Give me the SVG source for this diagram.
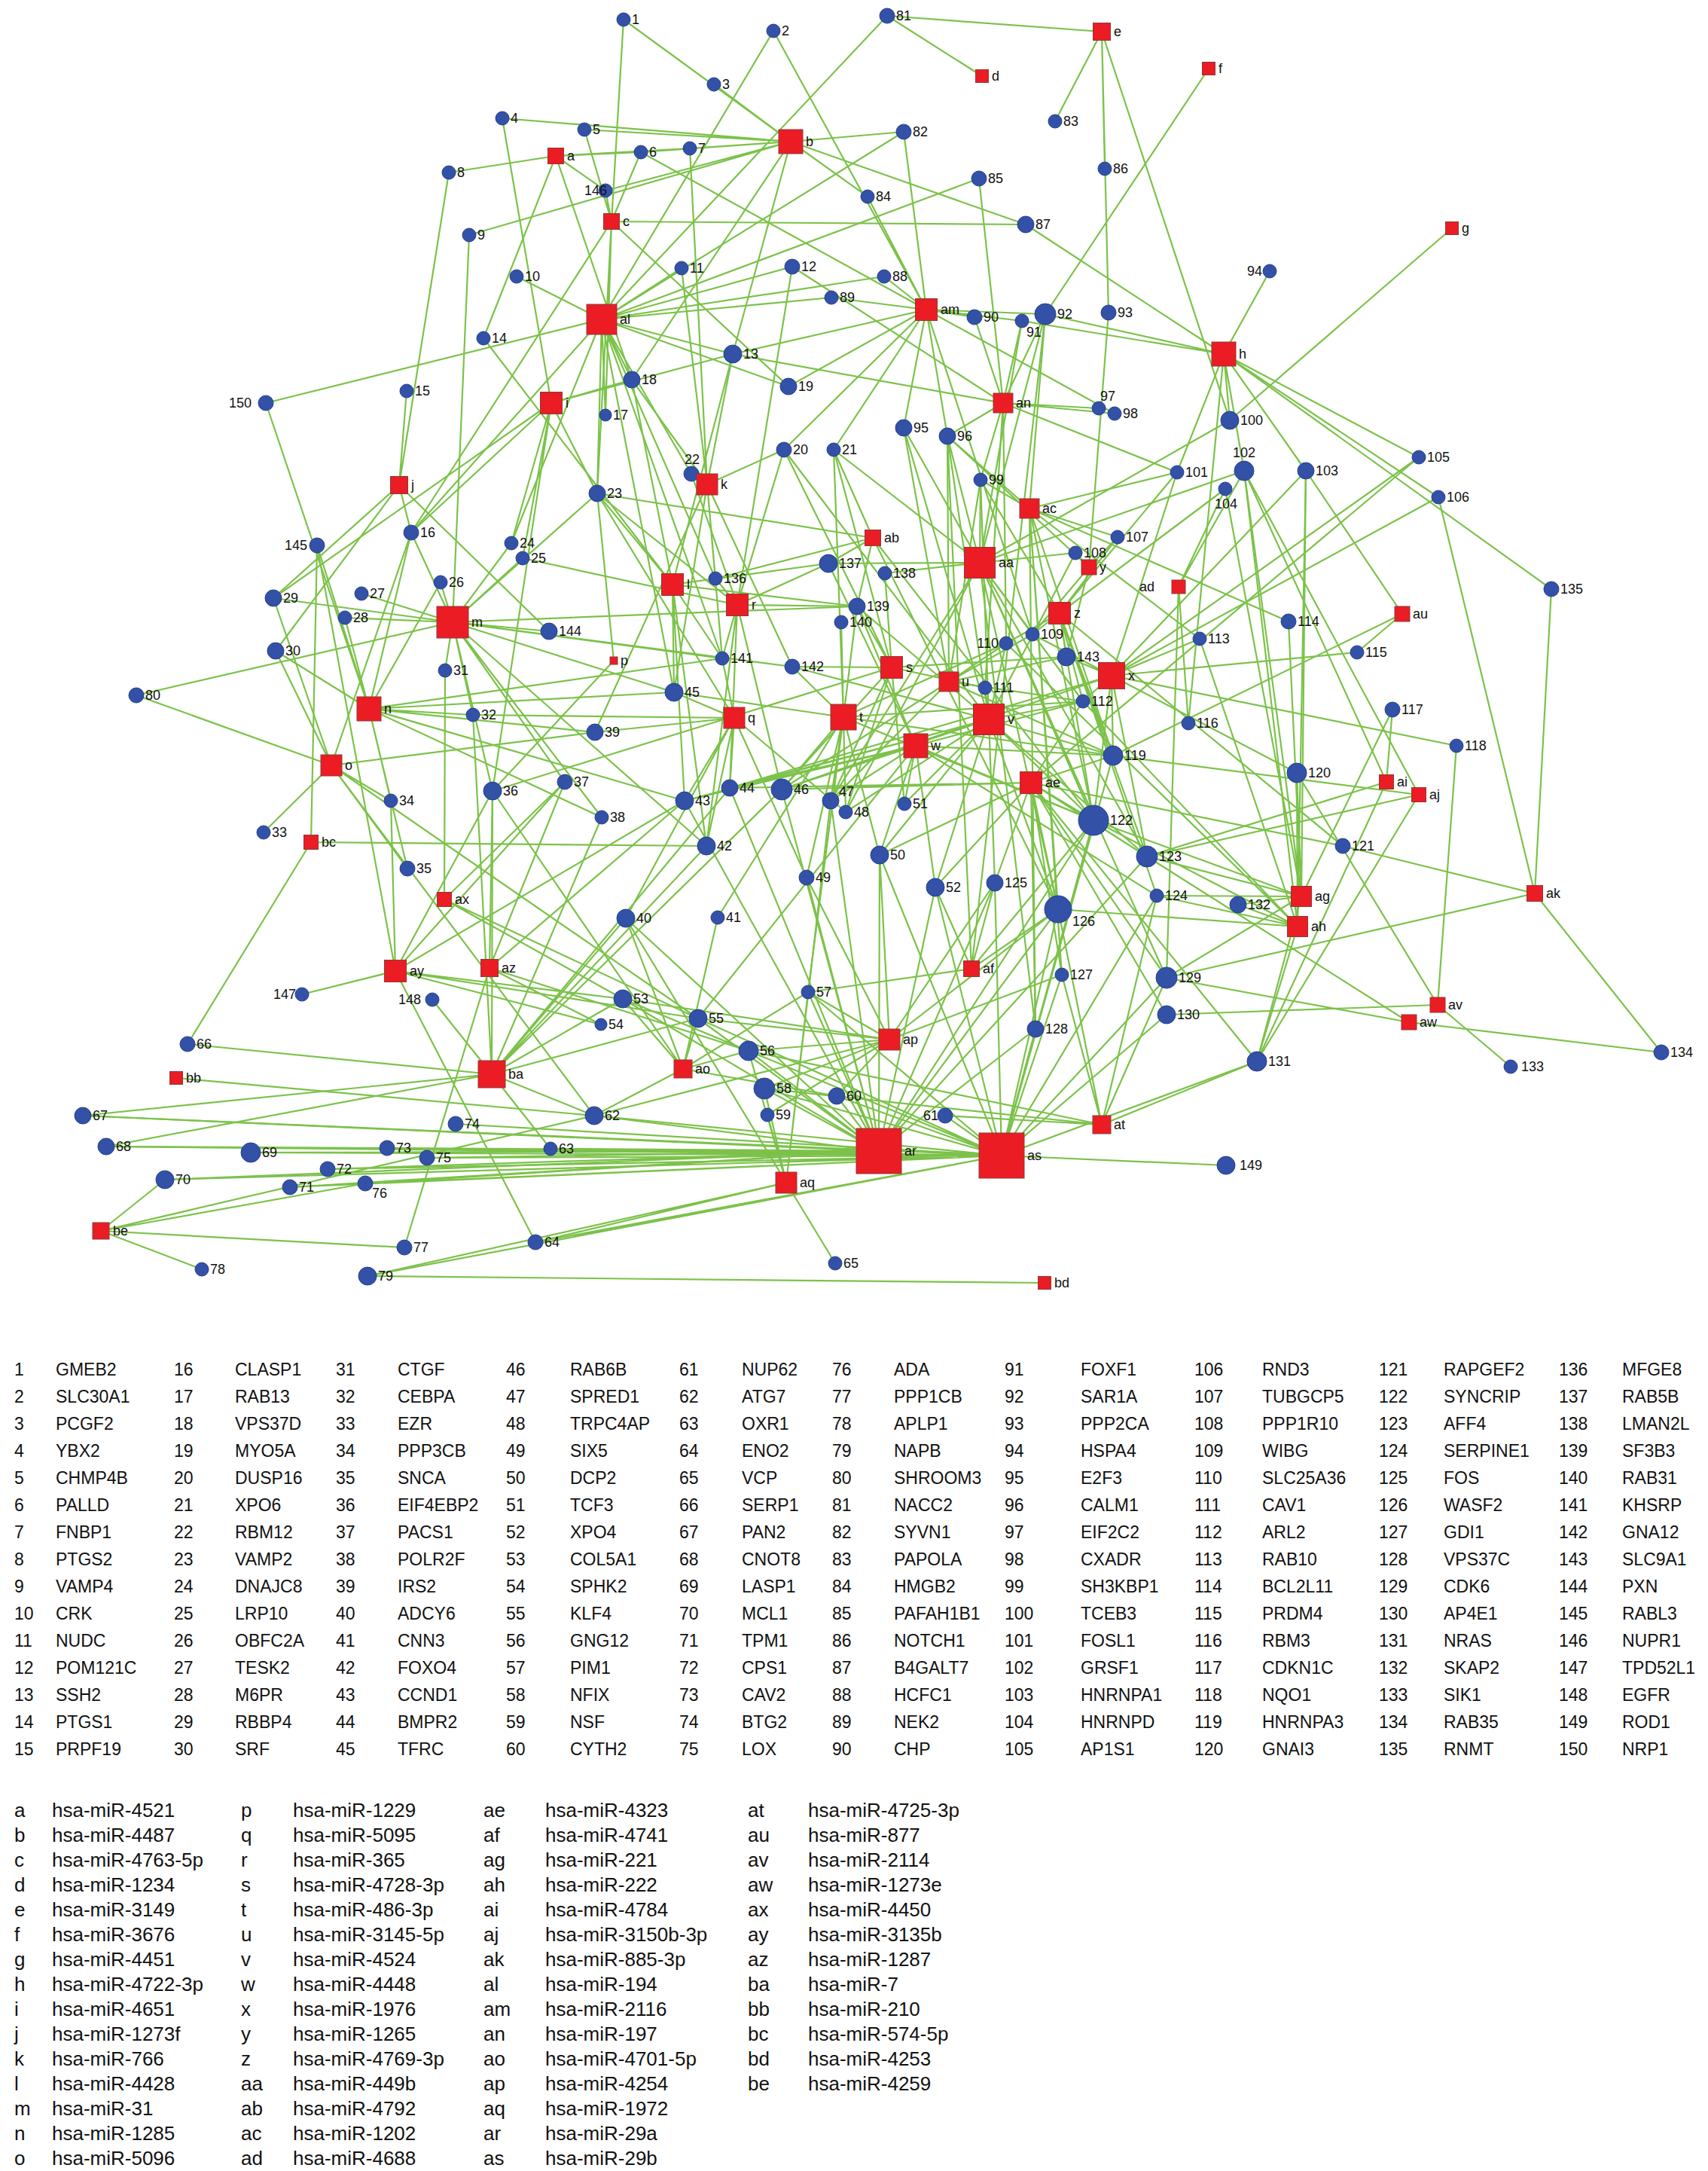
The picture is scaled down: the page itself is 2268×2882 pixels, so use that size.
<svg xmlns="http://www.w3.org/2000/svg" width="2268" height="2882" viewBox="0 0 2268 2882">
<style>
.e{fill:none;stroke:#7cc24a;stroke-width:2.2}
.g circle{fill:#3351a6;stroke:#24408f;stroke-width:1}
.r rect{fill:#ec1c24;stroke:#8c3a3a;stroke-width:1}
text{font-family:"Liberation Sans",Arial,sans-serif;fill:#111}
.t{font-size:18px}
.lg{font-size:23px}
.lm{font-size:26px}
</style>
<rect width="2268" height="2882" fill="#fff"/>
<g id="connectors" class="e">
<path d="M738 207L596 229M738 207L851 202M738 207L916 197M738 207L642 449M738 207L839 504M738 207L804 253"/>
<path d="M1050 188L828 26M1050 188L948 112M1050 188L667 157M1050 188L623 312M1050 188L851 202M1050 188L916 197M1050 188L1200 175M1050 188L1152 261M1050 188L1362 298M1050 188L804 253M1050 188L973 470M1050 188L839 504M1050 188L776 172"/>
<path d="M812 294L828 26M812 294L776 172M812 294L851 202M812 294L1362 298M812 294L804 253M812 294L1047 513M812 294L804 551M812 294L793 655M812 294L546 707"/>
<path d="M1304 101L1178 21"/>
<path d="M1463 42L1178 21M1463 42L1401 161M1463 42L1467 224M1463 42L1472 415M1463 42L1633 558"/>
<path d="M1605 91L1388 417"/>
<path d="M1928 303L1633 558"/>
<path d="M1625 470L1362 298M1625 470L1357 426M1625 470L1388 417M1625 470L1686 360M1625 470L1633 558M1625 470L1563 627M1625 470L1652 625M1625 470L1734 625M1625 470L1884 607M1625 470L1910 660M1625 470L2060 782M1625 470L1578 960"/>
<path d="M732 535L667 157M732 535L839 504M732 535L973 470M732 535L363 794M732 535L546 707M732 535L694 741M732 535L679 721M732 535L793 655M732 535L654 1050"/>
<path d="M530 644L596 229M530 644L540 519M530 644L546 707M530 644L363 794M530 644L366 864M530 644L729 838"/>
<path d="M939 643L916 197M939 643L918 629M939 643L973 470M939 643L905 356M939 643L839 504M939 643L950 768M939 643L959 874M939 643L895 919M939 643L790 972M939 643L1041 597M939 643L1052 885"/>
<path d="M893 776L642 449M893 776L839 504M893 776L793 655M893 776L950 768M893 776L1100 748M893 776L959 874M893 776L895 919M893 776L909 1063M893 776L938 1123M893 776L1138 805M893 776L973 470"/>
<path d="M601 826L623 312M601 826L546 707M601 826L679 721M601 826L694 741M601 826L585 773M601 826L480 788M601 826L458 820M601 826L363 794M601 826L591 890M601 826L628 949M601 826L654 1050M601 826L750 1038M601 826L799 1085M601 826L181 923M601 826L729 838M601 826L895 919M601 826L1052 885M601 826L1138 805M601 826L959 874M601 826L793 655M601 826L938 1123"/>
<path d="M490 941L421 724M490 941L546 707M490 941L458 820M490 941L366 864M490 941L585 773M490 941L628 949M490 941L519 1063M490 941L541 1153M490 941L799 1085M490 941L895 919M490 941L959 874M490 941L790 972M490 941L909 1063M490 941L353 535"/>
<path d="M440 1016L181 923M440 1016L366 864M440 1016L350 1105M440 1016L519 1063M440 1016L546 707M440 1016L790 972M440 1016L541 1153M440 1016L927 1352M440 1016L789 1481M440 1016L363 794"/>
<path d="M815 877L654 1050M815 877L793 655"/>
<path d="M975 953L895 919M975 953L628 949M975 953L790 972M975 953L909 1063M975 953L969 1046M975 953L959 874M975 953L831 1219M975 953L938 1123M975 953L1123 1078M975 953L1071 1165M975 953L793 655"/>
<path d="M979 803L1052 354M979 803L918 629M979 803L1041 597M979 803L950 768M979 803L1100 748M979 803L1138 805M979 803L959 874M979 803L969 1046M979 803L1038 1048M979 803L938 1123M979 803L694 741M979 803L793 655"/>
<path d="M1184 886L1041 597M1184 886L1107 597M1184 886L1175 761M1184 886L1138 805M1184 886L1052 885M1184 886L1416 872M1184 886L1308 913M1184 886L1103 1063M1184 886L1038 1048M1184 886L1201 1067M1184 886L1123 1078M1184 886L654 1050"/>
<path d="M1120 952L1107 597M1120 952L1138 805M1120 952L1117 826M1120 952L1052 885M1120 952L895 919M1120 952L1038 1048M1120 952L1103 1063M1120 952L1123 1078M1120 952L1168 1135M1120 952L1071 1165M1120 952L1438 931M1120 952L1478 1003M1120 952L1452 1089M1120 952L1336 854M1120 952L953 1218M1120 952L1073 1317"/>
<path d="M1260 905L1200 568M1260 905L1258 579M1260 905L1371 842M1260 905L1336 854M1260 905L1416 872M1260 905L1438 931M1260 905L1038 1048M1260 905L1103 1063M1260 905L1478 1003M1260 905L1302 637"/>
<path d="M1313 955L1200 568M1313 955L1258 579M1313 955L1302 637M1313 955L1428 734M1313 955L1336 854M1313 955L1308 913M1313 955L1438 931M1313 955L1478 1003M1313 955L1452 1089M1313 955L1523 1137M1313 955L1038 1048M1313 955L1123 1078M1313 955L1168 1135M1313 955L1201 1067M1313 955L1242 1178M1313 955L1321 1172M1313 955L1405 1207M1313 955L1052 885M1313 955L1138 805M1313 955L1041 597M1313 955L969 1046M1313 955L909 1063"/>
<path d="M1216 990L969 1046M1216 990L909 1063M1216 990L1038 1048M1216 990L1103 1063M1216 990L1201 1067M1216 990L1168 1135M1216 990L1478 1003M1216 990L1452 1089M1216 990L1438 931M1216 990L1138 805M1216 990L1100 748M1216 990L1242 1178M1216 990L927 1352M1216 990L1536 1189"/>
<path d="M1476 897L1416 872M1476 897L1438 931M1476 897L1478 1003M1476 897L1563 627M1476 897L1734 625M1476 897L1884 607M1476 897L1910 660M1476 897L1593 848M1476 897L1802 866M1476 897L1722 1026M1476 897L1452 1089M1476 897L1371 842M1476 897L1038 1048M1476 897L969 1046M1476 897L1523 1137M1476 897L1934 990"/>
<path d="M1446 753L1472 415M1446 753L1484 713M1446 753L1428 734M1446 753L1371 842M1446 753L1258 579M1446 753L1416 872"/>
<path d="M1407 814L1302 637M1407 814L1563 627M1407 814L1627 649M1407 814L1484 713M1407 814L1371 842M1407 814L1336 854M1407 814L1438 931M1407 814L1452 1089M1407 814L1523 1137M1407 814L1536 1189M1407 814L1478 1003M1407 814L1416 872M1407 814L1783 1123"/>
<path d="M1301 747L1100 748M1301 747L1175 761M1301 747L1428 734M1301 747L1258 579M1301 747L1200 568M1301 747L1388 417M1301 747L1357 426M1301 747L1302 637M1301 747L1652 625M1301 747L1371 842M1301 747L1438 931M1301 747L1452 1089M1301 747L1523 1137M1301 747L1405 1207M1301 747L1375 1366M1301 747L1103 1063M1301 747L1123 1078M1301 747L1107 597M1301 747L1633 558M1301 747L1549 1298"/>
<path d="M1159 714L1107 597M1159 714L950 768M1159 714L1100 748M1159 714L1138 805M1159 714L1452 1089M1159 714L1405 1207M1159 714L793 655"/>
<path d="M1367 675L1388 417M1367 675L1258 579M1367 675L1302 637M1367 675L1563 627M1367 675L1484 713M1367 675L1593 848M1367 675L1711 825M1367 675L1478 1003M1367 675L1452 1089M1367 675L1405 1207M1367 675L1410 1294M1367 675L1375 1366"/>
<path d="M1565 779L1627 649M1565 779L1652 625M1565 779L1549 1298M1565 779L1578 960"/>
<path d="M1369 1039L1438 931M1369 1039L1478 1003M1369 1039L1452 1089M1369 1039L1523 1137M1369 1039L1321 1172M1369 1039L1405 1207M1369 1039L1410 1294M1369 1039L1375 1366M1369 1039L1549 1298M1369 1039L1549 1347M1369 1039L1669 1409M1369 1039L1242 1178M1369 1039L1168 1135M1369 1039L1038 1048M1369 1039L969 1046M1369 1039L1884 607M1369 1039L1783 1123"/>
<path d="M1290 1286L1321 1172M1290 1286L1405 1207M1290 1286L1452 1089M1290 1286L1073 1317M1290 1286L1242 1178M1290 1286L1258 579M1290 1286L1388 417"/>
<path d="M1728 1190L1652 625M1728 1190L1734 625M1728 1190L1711 825M1728 1190L1722 1026M1728 1190L1536 1189M1728 1190L1644 1201M1728 1190L1452 1089M1728 1190L1523 1137M1728 1190L1669 1409M1728 1190L1549 1298M1728 1190L1849 942M1728 1190L1627 649"/>
<path d="M1723 1230L1722 1026M1723 1230L1536 1189M1723 1230L1405 1207M1723 1230L1669 1409M1723 1230L1644 1201M1723 1230L1452 1089M1723 1230L1652 625M1723 1230L1593 848M1723 1230L1438 931M1723 1230L1336 854M1723 1230L1734 625"/>
<path d="M1841 1038L1523 1137M1841 1038L1849 942M1841 1038L1669 1409M1841 1038L1652 625"/>
<path d="M1884 1055L1523 1137M1884 1055L1652 625M1884 1055L1669 1409M1884 1055L1478 1003"/>
<path d="M2038 1186L1783 1123M2038 1186L2060 782M2038 1186L2206 1397M2038 1186L1549 1298M2038 1186L1910 660"/>
<path d="M799 424L1027 41M799 424L686 367M799 424L905 356M799 424L1052 354M799 424L973 470M799 424L804 551M799 424L839 504M799 424L1047 513M799 424L1200 175M799 424L1300 237M799 424L1174 367M799 424L1104 395M799 424L353 535M799 424L793 655M799 424L918 629M799 424L679 721M799 424L546 707M799 424L895 919M799 424L950 768M799 424L959 874M799 424L1178 21"/>
<path d="M1230 411L1027 41M1230 411L851 202M1230 411L1200 175M1230 411L1152 261M1230 411L1174 367M1230 411L1104 395M1230 411L1294 421M1230 411L1357 426M1230 411L1388 417M1230 411L1047 513M1230 411L1258 579M1230 411L973 470M1230 411L1041 597M1230 411L1200 568M1230 411L1480 549M1230 411L1107 597M1230 411L1371 842"/>
<path d="M1332 535L973 470M1332 535L1300 237M1332 535L1459 542M1332 535L1480 549M1332 535L1294 421M1332 535L1388 417M1332 535L1258 579M1332 535L1302 637M1332 535L1357 426M1332 535L1336 854M1332 535L1308 913M1332 535L1563 627M1332 535L1052 354"/>
<path d="M907 1419L953 1218M907 1419L827 1326M907 1419L927 1352M907 1419L994 1395M907 1419L1073 1317M907 1419L789 1481M907 1419L831 1219M907 1419L654 1050M907 1419L1111 1455"/>
<path d="M1181 1380L827 1326M1181 1380L927 1352M1181 1380L994 1395M1181 1380L1073 1317M1181 1380L1071 1165M1181 1380L1168 1135M1181 1380L1015 1445M1181 1380L1111 1455M1181 1380L789 1481M1181 1380L1405 1207M1181 1380L1410 1294M1181 1380L1321 1172M1181 1380L1019 1480"/>
<path d="M1044 1570L1109 1677M1044 1570L1015 1445M1044 1570L1019 1480M1044 1570L994 1395M1044 1570L831 1219M1044 1570L488 1694M1044 1570L711 1649M1044 1570L1073 1317M1044 1570L1103 1063"/>
<path d="M1167 1528L110 1481M1167 1528L141 1522M1167 1528L333 1530M1167 1528L219 1566M1167 1528L385 1576M1167 1528L435 1552M1167 1528L514 1524M1167 1528L567 1537M1167 1528L485 1571M1167 1528L731 1525M1167 1528L789 1481M1167 1528L827 1326M1167 1528L927 1352M1167 1528L994 1395M1167 1528L1015 1445M1167 1528L1111 1455M1167 1528L1038 1048M1167 1528L1103 1063M1167 1528L1168 1135M1167 1528L1242 1178M1167 1528L1321 1172M1167 1528L1405 1207M1167 1528L1452 1089M1167 1528L909 1063M1167 1528L969 1046M1167 1528L831 1219M1167 1528L1071 1165M1167 1528L1073 1317M1167 1528L1375 1366M1167 1528L1523 1137"/>
<path d="M1330 1534L110 1481M1330 1534L141 1522M1330 1534L333 1530M1330 1534L219 1566M1330 1534L385 1576M1330 1534L435 1552M1330 1534L514 1524M1330 1534L605 1492M1330 1534L567 1537M1330 1534L485 1571M1330 1534L488 1694M1330 1534L711 1649M1330 1534L731 1525M1330 1534L789 1481M1330 1534L1015 1445M1330 1534L994 1395M1330 1534L1111 1455M1330 1534L1255 1481M1330 1534L927 1352M1330 1534L827 1326M1330 1534L1452 1089M1330 1534L1405 1207M1330 1534L1321 1172M1330 1534L1410 1294M1330 1534L1375 1366M1330 1534L1536 1189M1330 1534L1549 1298M1330 1534L1549 1347M1330 1534L1669 1409M1330 1534L1628 1547M1330 1534L1478 1003M1330 1534L1242 1178M1330 1534L1168 1135M1330 1534L1073 1317"/>
<path d="M1463 1493L1410 1294M1463 1493L1549 1298M1463 1493L1669 1409M1463 1493L1255 1481M1463 1493L1015 1445M1463 1493L994 1395M1463 1493L1405 1207M1463 1493L1536 1189"/>
<path d="M1862 815L1734 625M1862 815L1802 866M1862 815L1478 1003"/>
<path d="M1909 1334L1549 1347M1909 1334L1934 990M1909 1334L2006 1416M1909 1334L1722 1026"/>
<path d="M1871 1357L1549 1298M1871 1357L2206 1397M1871 1357L1523 1137"/>
<path d="M590 1194L591 890M590 1194L827 1326M590 1194L927 1352M590 1194L750 1038"/>
<path d="M525 1289L401 1320M525 1289L519 1063M525 1289L654 1050M525 1289L827 1326M525 1289L798 1360M525 1289L927 1352M525 1289L750 1038M525 1289L909 1063M525 1289L421 724M525 1289L711 1649"/>
<path d="M650 1285L798 1360M650 1285L654 1050M650 1285L750 1038M650 1285L909 1063M650 1285L994 1395M650 1285L537 1656"/>
<path d="M653 1426L249 1386M653 1426L110 1481M653 1426L141 1522M653 1426L574 1327M653 1426L827 1326M653 1426L789 1481M653 1426L731 1525M653 1426L927 1352M653 1426L831 1219M653 1426L1038 1048M653 1426L969 1046M653 1426L654 1050M653 1426L628 949M653 1426L799 1085M653 1426L938 1123"/>
<path d="M234 1431L789 1481"/>
<path d="M413 1118L421 724M413 1118L249 1386M413 1118L938 1123"/>
<path d="M1387 1703L488 1694"/>
<path d="M134 1634L219 1566M134 1634L537 1656M134 1634L268 1685M134 1634L485 1571M134 1634L789 1481"/>
</g>
<g id="genes" class="t">
<g id="n1" class="g"><circle cx="828" cy="26" r="9"/><text x="839" y="32">1</text></g>
<g id="n2" class="g"><circle cx="1027" cy="41" r="9"/><text x="1038" y="47">2</text></g>
<g id="n3" class="g"><circle cx="948" cy="112" r="9"/><text x="959" y="118">3</text></g>
<g id="n4" class="g"><circle cx="667" cy="157" r="9"/><text x="678" y="163">4</text></g>
<g id="n5" class="g"><circle cx="776" cy="172" r="9"/><text x="787" y="178">5</text></g>
<g id="n6" class="g"><circle cx="851" cy="202" r="9"/><text x="862" y="208">6</text></g>
<g id="n7" class="g"><circle cx="916" cy="197" r="9"/><text x="927" y="203">7</text></g>
<g id="n8" class="g"><circle cx="596" cy="229" r="9"/><text x="607" y="235">8</text></g>
<g id="n9" class="g"><circle cx="623" cy="312" r="9"/><text x="634" y="318">9</text></g>
<g id="n10" class="g"><circle cx="686" cy="367" r="9"/><text x="697" y="373">10</text></g>
<g id="n11" class="g"><circle cx="905" cy="356" r="9"/><text x="916" y="362">11</text></g>
<g id="n12" class="g"><circle cx="1052" cy="354" r="10"/><text x="1064" y="360">12</text></g>
<g id="n13" class="g"><circle cx="973" cy="470" r="12"/><text x="987" y="476">13</text></g>
<g id="n14" class="g"><circle cx="642" cy="449" r="9"/><text x="653" y="455">14</text></g>
<g id="n15" class="g"><circle cx="540" cy="519" r="9"/><text x="551" y="525">15</text></g>
<g id="n16" class="g"><circle cx="546" cy="707" r="10"/><text x="558" y="713">16</text></g>
<g id="n17" class="g"><circle cx="804" cy="551" r="8"/><text x="814" y="557">17</text></g>
<g id="n18" class="g"><circle cx="839" cy="504" r="11"/><text x="852" y="510">18</text></g>
<g id="n19" class="g"><circle cx="1047" cy="513" r="11"/><text x="1060" y="519">19</text></g>
<g id="n20" class="g"><circle cx="1041" cy="597" r="10"/><text x="1053" y="603">20</text></g>
<g id="n21" class="g"><circle cx="1107" cy="597" r="9"/><text x="1118" y="603">21</text></g>
<g id="n22" class="g"><circle cx="918" cy="629" r="10"/><text x="919" y="616" text-anchor="middle">22</text></g>
<g id="n23" class="g"><circle cx="793" cy="655" r="11"/><text x="806" y="661">23</text></g>
<g id="n24" class="g"><circle cx="679" cy="721" r="9"/><text x="690" y="727">24</text></g>
<g id="n25" class="g"><circle cx="694" cy="741" r="9"/><text x="705" y="747">25</text></g>
<g id="n26" class="g"><circle cx="585" cy="773" r="9"/><text x="596" y="779">26</text></g>
<g id="n27" class="g"><circle cx="480" cy="788" r="9"/><text x="491" y="794">27</text></g>
<g id="n28" class="g"><circle cx="458" cy="820" r="9"/><text x="469" y="826">28</text></g>
<g id="n29" class="g"><circle cx="363" cy="794" r="11"/><text x="376" y="800">29</text></g>
<g id="n30" class="g"><circle cx="366" cy="864" r="11"/><text x="379" y="870">30</text></g>
<g id="n31" class="g"><circle cx="591" cy="890" r="9"/><text x="602" y="896">31</text></g>
<g id="n32" class="g"><circle cx="628" cy="949" r="9"/><text x="639" y="955">32</text></g>
<g id="n33" class="g"><circle cx="350" cy="1105" r="9"/><text x="361" y="1111">33</text></g>
<g id="n34" class="g"><circle cx="519" cy="1063" r="9"/><text x="530" y="1069">34</text></g>
<g id="n35" class="g"><circle cx="541" cy="1153" r="10"/><text x="553" y="1159">35</text></g>
<g id="n36" class="g"><circle cx="654" cy="1050" r="12"/><text x="668" y="1056">36</text></g>
<g id="n37" class="g"><circle cx="750" cy="1038" r="10"/><text x="762" y="1044">37</text></g>
<g id="n38" class="g"><circle cx="799" cy="1085" r="9"/><text x="810" y="1091">38</text></g>
<g id="n39" class="g"><circle cx="790" cy="972" r="11"/><text x="803" y="978">39</text></g>
<g id="n40" class="g"><circle cx="831" cy="1219" r="12"/><text x="845" y="1225">40</text></g>
<g id="n41" class="g"><circle cx="953" cy="1218" r="9"/><text x="964" y="1224">41</text></g>
<g id="n42" class="g"><circle cx="938" cy="1123" r="12"/><text x="952" y="1129">42</text></g>
<g id="n43" class="g"><circle cx="909" cy="1063" r="12"/><text x="923" y="1069">43</text></g>
<g id="n44" class="g"><circle cx="969" cy="1046" r="11"/><text x="982" y="1052">44</text></g>
<g id="n45" class="g"><circle cx="895" cy="919" r="12"/><text x="909" y="925">45</text></g>
<g id="n46" class="g"><circle cx="1038" cy="1048" r="14"/><text x="1054" y="1054">46</text></g>
<g id="n47" class="g"><circle cx="1103" cy="1063" r="11"/><text x="1114" y="1057">47</text></g>
<g id="n48" class="g"><circle cx="1123" cy="1078" r="9"/><text x="1134" y="1084">48</text></g>
<g id="n49" class="g"><circle cx="1071" cy="1165" r="10"/><text x="1083" y="1171">49</text></g>
<g id="n50" class="g"><circle cx="1168" cy="1135" r="12"/><text x="1182" y="1141">50</text></g>
<g id="n51" class="g"><circle cx="1201" cy="1067" r="9"/><text x="1212" y="1073">51</text></g>
<g id="n52" class="g"><circle cx="1242" cy="1178" r="12"/><text x="1256" y="1184">52</text></g>
<g id="n53" class="g"><circle cx="827" cy="1326" r="12"/><text x="841" y="1332">53</text></g>
<g id="n54" class="g"><circle cx="798" cy="1360" r="8"/><text x="808" y="1366">54</text></g>
<g id="n55" class="g"><circle cx="927" cy="1352" r="12"/><text x="941" y="1358">55</text></g>
<g id="n56" class="g"><circle cx="994" cy="1395" r="13"/><text x="1009" y="1401">56</text></g>
<g id="n57" class="g"><circle cx="1073" cy="1317" r="9"/><text x="1084" y="1323">57</text></g>
<g id="n58" class="g"><circle cx="1015" cy="1445" r="14"/><text x="1031" y="1451">58</text></g>
<g id="n59" class="g"><circle cx="1019" cy="1480" r="9"/><text x="1030" y="1486">59</text></g>
<g id="n60" class="g"><circle cx="1111" cy="1455" r="11"/><text x="1124" y="1461">60</text></g>
<g id="n61" class="g"><circle cx="1255" cy="1481" r="10"/><text x="1246" y="1487" text-anchor="end">61</text></g>
<g id="n62" class="g"><circle cx="789" cy="1481" r="12"/><text x="803" y="1487">62</text></g>
<g id="n63" class="g"><circle cx="731" cy="1525" r="9"/><text x="742" y="1531">63</text></g>
<g id="n64" class="g"><circle cx="711" cy="1649" r="10"/><text x="723" y="1655">64</text></g>
<g id="n65" class="g"><circle cx="1109" cy="1677" r="9"/><text x="1120" y="1683">65</text></g>
<g id="n66" class="g"><circle cx="249" cy="1386" r="10"/><text x="261" y="1392">66</text></g>
<g id="n67" class="g"><circle cx="110" cy="1481" r="11"/><text x="123" y="1487">67</text></g>
<g id="n68" class="g"><circle cx="141" cy="1522" r="11"/><text x="154" y="1528">68</text></g>
<g id="n69" class="g"><circle cx="333" cy="1530" r="13"/><text x="348" y="1536">69</text></g>
<g id="n70" class="g"><circle cx="219" cy="1566" r="12"/><text x="233" y="1572">70</text></g>
<g id="n71" class="g"><circle cx="385" cy="1576" r="10"/><text x="397" y="1582">71</text></g>
<g id="n72" class="g"><circle cx="435" cy="1552" r="10"/><text x="447" y="1558">72</text></g>
<g id="n73" class="g"><circle cx="514" cy="1524" r="10"/><text x="526" y="1530">73</text></g>
<g id="n74" class="g"><circle cx="605" cy="1492" r="10"/><text x="617" y="1498">74</text></g>
<g id="n75" class="g"><circle cx="567" cy="1537" r="10"/><text x="579" y="1543">75</text></g>
<g id="n76" class="g"><circle cx="485" cy="1571" r="10"/><text x="494" y="1590">76</text></g>
<g id="n77" class="g"><circle cx="537" cy="1656" r="10"/><text x="549" y="1662">77</text></g>
<g id="n78" class="g"><circle cx="268" cy="1685" r="9"/><text x="279" y="1691">78</text></g>
<g id="n79" class="g"><circle cx="488" cy="1694" r="12"/><text x="502" y="1700">79</text></g>
<g id="n80" class="g"><circle cx="181" cy="923" r="10"/><text x="193" y="929">80</text></g>
<g id="n81" class="g"><circle cx="1178" cy="21" r="10"/><text x="1190" y="27">81</text></g>
<g id="n82" class="g"><circle cx="1200" cy="175" r="10"/><text x="1212" y="181">82</text></g>
<g id="n83" class="g"><circle cx="1401" cy="161" r="9"/><text x="1412" y="167">83</text></g>
<g id="n84" class="g"><circle cx="1152" cy="261" r="9"/><text x="1163" y="267">84</text></g>
<g id="n85" class="g"><circle cx="1300" cy="237" r="10"/><text x="1312" y="243">85</text></g>
<g id="n86" class="g"><circle cx="1467" cy="224" r="9"/><text x="1478" y="230">86</text></g>
<g id="n87" class="g"><circle cx="1362" cy="298" r="11"/><text x="1375" y="304">87</text></g>
<g id="n88" class="g"><circle cx="1174" cy="367" r="9"/><text x="1185" y="373">88</text></g>
<g id="n89" class="g"><circle cx="1104" cy="395" r="9"/><text x="1115" y="401">89</text></g>
<g id="n90" class="g"><circle cx="1294" cy="421" r="10"/><text x="1306" y="427">90</text></g>
<g id="n91" class="g"><circle cx="1357" cy="426" r="9"/><text x="1373" y="447" text-anchor="middle">91</text></g>
<g id="n92" class="g"><circle cx="1388" cy="417" r="14"/><text x="1404" y="423">92</text></g>
<g id="n93" class="g"><circle cx="1472" cy="415" r="10"/><text x="1484" y="421">93</text></g>
<g id="n94" class="g"><circle cx="1686" cy="360" r="9"/><text x="1676" y="366" text-anchor="end">94</text></g>
<g id="n95" class="g"><circle cx="1200" cy="568" r="11"/><text x="1213" y="574">95</text></g>
<g id="n96" class="g"><circle cx="1258" cy="579" r="11"/><text x="1271" y="585">96</text></g>
<g id="n97" class="g"><circle cx="1459" cy="542" r="9"/><text x="1471" y="532" text-anchor="middle">97</text></g>
<g id="n98" class="g"><circle cx="1480" cy="549" r="9"/><text x="1491" y="555">98</text></g>
<g id="n99" class="g"><circle cx="1302" cy="637" r="9"/><text x="1313" y="643">99</text></g>
<g id="n100" class="g"><circle cx="1633" cy="558" r="12"/><text x="1647" y="564">100</text></g>
<g id="n101" class="g"><circle cx="1563" cy="627" r="9"/><text x="1574" y="633">101</text></g>
<g id="n102" class="g"><circle cx="1652" cy="625" r="13"/><text x="1652" y="607" text-anchor="middle">102</text></g>
<g id="n103" class="g"><circle cx="1734" cy="625" r="11"/><text x="1747" y="631">103</text></g>
<g id="n104" class="g"><circle cx="1627" cy="649" r="9"/><text x="1628" y="675" text-anchor="middle">104</text></g>
<g id="n105" class="g"><circle cx="1884" cy="607" r="9"/><text x="1895" y="613">105</text></g>
<g id="n106" class="g"><circle cx="1910" cy="660" r="9"/><text x="1921" y="666">106</text></g>
<g id="n107" class="g"><circle cx="1484" cy="713" r="9"/><text x="1495" y="719">107</text></g>
<g id="n108" class="g"><circle cx="1428" cy="734" r="9"/><text x="1439" y="740">108</text></g>
<g id="n109" class="g"><circle cx="1371" cy="842" r="9"/><text x="1382" y="848">109</text></g>
<g id="n110" class="g"><circle cx="1336" cy="854" r="9"/><text x="1326" y="860" text-anchor="end">110</text></g>
<g id="n111" class="g"><circle cx="1308" cy="913" r="9"/><text x="1319" y="919">111</text></g>
<g id="n112" class="g"><circle cx="1438" cy="931" r="9"/><text x="1449" y="937">112</text></g>
<g id="n113" class="g"><circle cx="1593" cy="848" r="9"/><text x="1604" y="854">113</text></g>
<g id="n114" class="g"><circle cx="1711" cy="825" r="10"/><text x="1723" y="831">114</text></g>
<g id="n115" class="g"><circle cx="1802" cy="866" r="9"/><text x="1813" y="872">115</text></g>
<g id="n116" class="g"><circle cx="1578" cy="960" r="9"/><text x="1589" y="966">116</text></g>
<g id="n117" class="g"><circle cx="1849" cy="942" r="10"/><text x="1861" y="948">117</text></g>
<g id="n118" class="g"><circle cx="1934" cy="990" r="9"/><text x="1945" y="996">118</text></g>
<g id="n119" class="g"><circle cx="1478" cy="1003" r="13"/><text x="1493" y="1009">119</text></g>
<g id="n120" class="g"><circle cx="1722" cy="1026" r="13"/><text x="1737" y="1032">120</text></g>
<g id="n121" class="g"><circle cx="1783" cy="1123" r="10"/><text x="1795" y="1129">121</text></g>
<g id="n122" class="g"><circle cx="1452" cy="1089" r="20"/><text x="1474" y="1095">122</text></g>
<g id="n123" class="g"><circle cx="1523" cy="1137" r="14"/><text x="1539" y="1143">123</text></g>
<g id="n124" class="g"><circle cx="1536" cy="1189" r="9"/><text x="1547" y="1195">124</text></g>
<g id="n125" class="g"><circle cx="1321" cy="1172" r="11"/><text x="1334" y="1178">125</text></g>
<g id="n126" class="g"><circle cx="1405" cy="1207" r="18"/><text x="1424" y="1229">126</text></g>
<g id="n127" class="g"><circle cx="1410" cy="1294" r="9"/><text x="1421" y="1300">127</text></g>
<g id="n128" class="g"><circle cx="1375" cy="1366" r="11"/><text x="1388" y="1372">128</text></g>
<g id="n129" class="g"><circle cx="1549" cy="1298" r="14"/><text x="1565" y="1304">129</text></g>
<g id="n130" class="g"><circle cx="1549" cy="1347" r="12"/><text x="1563" y="1353">130</text></g>
<g id="n131" class="g"><circle cx="1669" cy="1409" r="13"/><text x="1684" y="1415">131</text></g>
<g id="n132" class="g"><circle cx="1644" cy="1201" r="11"/><text x="1657" y="1207">132</text></g>
<g id="n133" class="g"><circle cx="2006" cy="1416" r="9"/><text x="2020" y="1422">133</text></g>
<g id="n134" class="g"><circle cx="2206" cy="1397" r="10"/><text x="2218" y="1403">134</text></g>
<g id="n135" class="g"><circle cx="2060" cy="782" r="10"/><text x="2072" y="788">135</text></g>
<g id="n136" class="g"><circle cx="950" cy="768" r="9"/><text x="961" y="774">136</text></g>
<g id="n137" class="g"><circle cx="1100" cy="748" r="12"/><text x="1114" y="754">137</text></g>
<g id="n138" class="g"><circle cx="1175" cy="761" r="9"/><text x="1186" y="767">138</text></g>
<g id="n139" class="g"><circle cx="1138" cy="805" r="11"/><text x="1151" y="811">139</text></g>
<g id="n140" class="g"><circle cx="1117" cy="826" r="9"/><text x="1128" y="832">140</text></g>
<g id="n141" class="g"><circle cx="959" cy="874" r="9"/><text x="970" y="880">141</text></g>
<g id="n142" class="g"><circle cx="1052" cy="885" r="10"/><text x="1064" y="891">142</text></g>
<g id="n143" class="g"><circle cx="1416" cy="872" r="12"/><text x="1430" y="878">143</text></g>
<g id="n144" class="g"><circle cx="729" cy="838" r="11"/><text x="742" y="844">144</text></g>
<g id="n145" class="g"><circle cx="421" cy="724" r="10"/><text x="408" y="730" text-anchor="end">145</text></g>
<g id="n146" class="g"><circle cx="804" cy="253" r="9"/><text x="806" y="259" text-anchor="end">146</text></g>
<g id="n147" class="g"><circle cx="401" cy="1320" r="9"/><text x="393" y="1326" text-anchor="end">147</text></g>
<g id="n148" class="g"><circle cx="574" cy="1327" r="9"/><text x="559" y="1333" text-anchor="end">148</text></g>
<g id="n149" class="g"><circle cx="1628" cy="1547" r="12"/><text x="1646" y="1553">149</text></g>
<g id="n150" class="g"><circle cx="353" cy="535" r="10"/><text x="334" y="541" text-anchor="end">150</text></g>
</g>
<g id="mirnas" class="t">
<g id="m-a" class="r"><rect x="727.5" y="196.5" width="21" height="21"/><text x="753" y="213">a</text></g>
<g id="m-b" class="r"><rect x="1034" y="172" width="32" height="32"/><text x="1070" y="194">b</text></g>
<g id="m-c" class="r"><rect x="801.5" y="283.5" width="21" height="21"/><text x="827" y="300">c</text></g>
<g id="m-d" class="r"><rect x="1295.5" y="92.5" width="17" height="17"/><text x="1317" y="107">d</text></g>
<g id="m-e" class="r"><rect x="1451.5" y="30.5" width="23" height="23"/><text x="1479" y="48">e</text></g>
<g id="m-f" class="r"><rect x="1596.5" y="82.5" width="17" height="17"/><text x="1618" y="97">f</text></g>
<g id="m-g" class="r"><rect x="1919.5" y="294.5" width="17" height="17"/><text x="1941" y="309">g</text></g>
<g id="m-h" class="r"><rect x="1609" y="454" width="32" height="32"/><text x="1645" y="476">h</text></g>
<g id="m-i" class="r"><rect x="717.5" y="520.5" width="29" height="29"/><text x="751" y="541">i</text></g>
<g id="m-j" class="r"><rect x="518.5" y="632.5" width="23" height="23"/><text x="546" y="650">j</text></g>
<g id="m-k" class="r"><rect x="925" y="629" width="28" height="28"/><text x="957" y="649">k</text></g>
<g id="m-l" class="r"><rect x="878.5" y="761.5" width="29" height="29"/><text x="912" y="782">l</text></g>
<g id="m-m" class="r"><rect x="580" y="805" width="42" height="42"/><text x="626" y="832">m</text></g>
<g id="m-n" class="r"><rect x="474" y="925" width="32" height="32"/><text x="510" y="947">n</text></g>
<g id="m-o" class="r"><rect x="426" y="1002" width="28" height="28"/><text x="458" y="1022">o</text></g>
<g id="m-p" class="r"><rect x="810" y="872" width="10" height="10"/><text x="824" y="883">p</text></g>
<g id="m-q" class="r"><rect x="961" y="939" width="28" height="28"/><text x="993" y="959">q</text></g>
<g id="m-r" class="r"><rect x="964.5" y="788.5" width="29" height="29"/><text x="998" y="809">r</text></g>
<g id="m-s" class="r"><rect x="1169.5" y="871.5" width="29" height="29"/><text x="1203" y="892">s</text></g>
<g id="m-t" class="r"><rect x="1103" y="935" width="34" height="34"/><text x="1141" y="958">t</text></g>
<g id="m-u" class="r"><rect x="1247" y="892" width="26" height="26"/><text x="1277" y="911">u</text></g>
<g id="m-v" class="r"><rect x="1292.5" y="934.5" width="41" height="41"/><text x="1338" y="961">v</text></g>
<g id="m-w" class="r"><rect x="1200" y="974" width="32" height="32"/><text x="1236" y="996">w</text></g>
<g id="m-x" class="r"><rect x="1458.5" y="879.5" width="35" height="35"/><text x="1498" y="903">x</text></g>
<g id="m-y" class="r"><rect x="1436" y="743" width="20" height="20"/><text x="1460" y="759">y</text></g>
<g id="m-z" class="r"><rect x="1392.5" y="799.5" width="29" height="29"/><text x="1426" y="820">z</text></g>
<g id="m-aa" class="r"><rect x="1280.5" y="726.5" width="41" height="41"/><text x="1326" y="753">aa</text></g>
<g id="m-ab" class="r"><rect x="1148.5" y="703.5" width="21" height="21"/><text x="1174" y="720">ab</text></g>
<g id="m-ac" class="r"><rect x="1354" y="662" width="26" height="26"/><text x="1384" y="681">ac</text></g>
<g id="m-ad" class="r"><rect x="1556" y="770" width="18" height="18"/><text x="1533" y="785" text-anchor="end">ad</text></g>
<g id="m-ae" class="r"><rect x="1354.5" y="1024.5" width="29" height="29"/><text x="1388" y="1045">ae</text></g>
<g id="m-af" class="r"><rect x="1279.5" y="1275.5" width="21" height="21"/><text x="1305" y="1292">af</text></g>
<g id="m-ag" class="r"><rect x="1714.5" y="1176.5" width="27" height="27"/><text x="1746" y="1196">ag</text></g>
<g id="m-ah" class="r"><rect x="1709.5" y="1216.5" width="27" height="27"/><text x="1741" y="1236">ah</text></g>
<g id="m-ai" class="r"><rect x="1831.5" y="1028.5" width="19" height="19"/><text x="1855" y="1044">ai</text></g>
<g id="m-aj" class="r"><rect x="1874.5" y="1045.5" width="19" height="19"/><text x="1898" y="1061">aj</text></g>
<g id="m-ak" class="r"><rect x="2027.5" y="1175.5" width="21" height="21"/><text x="2053" y="1192">ak</text></g>
<g id="m-al" class="r"><rect x="779" y="404" width="40" height="40"/><text x="823" y="430">al</text></g>
<g id="m-am" class="r"><rect x="1215.5" y="396.5" width="29" height="29"/><text x="1249" y="417">am</text></g>
<g id="m-an" class="r"><rect x="1319" y="522" width="26" height="26"/><text x="1349" y="541">an</text></g>
<g id="m-ao" class="r"><rect x="895" y="1407" width="24" height="24"/><text x="923" y="1425">ao</text></g>
<g id="m-ap" class="r"><rect x="1167" y="1366" width="28" height="28"/><text x="1199" y="1386">ap</text></g>
<g id="m-aq" class="r"><rect x="1030" y="1556" width="28" height="28"/><text x="1062" y="1576">aq</text></g>
<g id="m-ar" class="r"><rect x="1137" y="1498" width="60" height="60"/><text x="1201" y="1534">ar</text></g>
<g id="m-as" class="r"><rect x="1300" y="1504" width="60" height="60"/><text x="1364" y="1540">as</text></g>
<g id="m-at" class="r"><rect x="1451" y="1481" width="24" height="24"/><text x="1479" y="1499">at</text></g>
<g id="m-au" class="r"><rect x="1852" y="805" width="20" height="20"/><text x="1876" y="821">au</text></g>
<g id="m-av" class="r"><rect x="1899" y="1324" width="20" height="20"/><text x="1923" y="1340">av</text></g>
<g id="m-aw" class="r"><rect x="1861" y="1347" width="20" height="20"/><text x="1885" y="1363">aw</text></g>
<g id="m-ax" class="r"><rect x="580.5" y="1184.5" width="19" height="19"/><text x="604" y="1200">ax</text></g>
<g id="m-ay" class="r"><rect x="510.5" y="1274.5" width="29" height="29"/><text x="544" y="1295">ay</text></g>
<g id="m-az" class="r"><rect x="638.5" y="1273.5" width="23" height="23"/><text x="666" y="1291">az</text></g>
<g id="m-ba" class="r"><rect x="635" y="1408" width="36" height="36"/><text x="675" y="1432">ba</text></g>
<g id="m-bb" class="r"><rect x="225.5" y="1422.5" width="17" height="17"/><text x="247" y="1437">bb</text></g>
<g id="m-bc" class="r"><rect x="403.5" y="1108.5" width="19" height="19"/><text x="427" y="1124">bc</text></g>
<g id="m-bd" class="r"><rect x="1378.5" y="1694.5" width="17" height="17"/><text x="1400" y="1709">bd</text></g>
<g id="m-be" class="r"><rect x="123" y="1623" width="22" height="22"/><text x="150" y="1640">be</text></g>
</g>
<g id="gene-legend" class="lg">
<text y="1826"><tspan x="19">1</tspan><tspan x="74">GMEB2</tspan><tspan x="231">16</tspan><tspan x="312">CLASP1</tspan><tspan x="446">31</tspan><tspan x="528">CTGF</tspan><tspan x="672">46</tspan><tspan x="757">RAB6B</tspan><tspan x="902">61</tspan><tspan x="985">NUP62</tspan><tspan x="1105">76</tspan><tspan x="1187">ADA</tspan><tspan x="1334">91</tspan><tspan x="1435">FOXF1</tspan><tspan x="1586">106</tspan><tspan x="1676">RND3</tspan><tspan x="1831">121</tspan><tspan x="1917">RAPGEF2</tspan><tspan x="2070">136</tspan><tspan x="2154">MFGE8</tspan></text>
<text y="1862"><tspan x="19">2</tspan><tspan x="74">SLC30A1</tspan><tspan x="231">17</tspan><tspan x="312">RAB13</tspan><tspan x="446">32</tspan><tspan x="528">CEBPA</tspan><tspan x="672">47</tspan><tspan x="757">SPRED1</tspan><tspan x="902">62</tspan><tspan x="985">ATG7</tspan><tspan x="1105">77</tspan><tspan x="1187">PPP1CB</tspan><tspan x="1334">92</tspan><tspan x="1435">SAR1A</tspan><tspan x="1586">107</tspan><tspan x="1676">TUBGCP5</tspan><tspan x="1831">122</tspan><tspan x="1917">SYNCRIP</tspan><tspan x="2070">137</tspan><tspan x="2154">RAB5B</tspan></text>
<text y="1898"><tspan x="19">3</tspan><tspan x="74">PCGF2</tspan><tspan x="231">18</tspan><tspan x="312">VPS37D</tspan><tspan x="446">33</tspan><tspan x="528">EZR</tspan><tspan x="672">48</tspan><tspan x="757">TRPC4AP</tspan><tspan x="902">63</tspan><tspan x="985">OXR1</tspan><tspan x="1105">78</tspan><tspan x="1187">APLP1</tspan><tspan x="1334">93</tspan><tspan x="1435">PPP2CA</tspan><tspan x="1586">108</tspan><tspan x="1676">PPP1R10</tspan><tspan x="1831">123</tspan><tspan x="1917">AFF4</tspan><tspan x="2070">138</tspan><tspan x="2154">LMAN2L</tspan></text>
<text y="1934"><tspan x="19">4</tspan><tspan x="74">YBX2</tspan><tspan x="231">19</tspan><tspan x="312">MYO5A</tspan><tspan x="446">34</tspan><tspan x="528">PPP3CB</tspan><tspan x="672">49</tspan><tspan x="757">SIX5</tspan><tspan x="902">64</tspan><tspan x="985">ENO2</tspan><tspan x="1105">79</tspan><tspan x="1187">NAPB</tspan><tspan x="1334">94</tspan><tspan x="1435">HSPA4</tspan><tspan x="1586">109</tspan><tspan x="1676">WIBG</tspan><tspan x="1831">124</tspan><tspan x="1917">SERPINE1</tspan><tspan x="2070">139</tspan><tspan x="2154">SF3B3</tspan></text>
<text y="1970"><tspan x="19">5</tspan><tspan x="74">CHMP4B</tspan><tspan x="231">20</tspan><tspan x="312">DUSP16</tspan><tspan x="446">35</tspan><tspan x="528">SNCA</tspan><tspan x="672">50</tspan><tspan x="757">DCP2</tspan><tspan x="902">65</tspan><tspan x="985">VCP</tspan><tspan x="1105">80</tspan><tspan x="1187">SHROOM3</tspan><tspan x="1334">95</tspan><tspan x="1435">E2F3</tspan><tspan x="1586">110</tspan><tspan x="1676">SLC25A36</tspan><tspan x="1831">125</tspan><tspan x="1917">FOS</tspan><tspan x="2070">140</tspan><tspan x="2154">RAB31</tspan></text>
<text y="2006"><tspan x="19">6</tspan><tspan x="74">PALLD</tspan><tspan x="231">21</tspan><tspan x="312">XPO6</tspan><tspan x="446">36</tspan><tspan x="528">EIF4EBP2</tspan><tspan x="672">51</tspan><tspan x="757">TCF3</tspan><tspan x="902">66</tspan><tspan x="985">SERP1</tspan><tspan x="1105">81</tspan><tspan x="1187">NACC2</tspan><tspan x="1334">96</tspan><tspan x="1435">CALM1</tspan><tspan x="1586">111</tspan><tspan x="1676">CAV1</tspan><tspan x="1831">126</tspan><tspan x="1917">WASF2</tspan><tspan x="2070">141</tspan><tspan x="2154">KHSRP</tspan></text>
<text y="2042"><tspan x="19">7</tspan><tspan x="74">FNBP1</tspan><tspan x="231">22</tspan><tspan x="312">RBM12</tspan><tspan x="446">37</tspan><tspan x="528">PACS1</tspan><tspan x="672">52</tspan><tspan x="757">XPO4</tspan><tspan x="902">67</tspan><tspan x="985">PAN2</tspan><tspan x="1105">82</tspan><tspan x="1187">SYVN1</tspan><tspan x="1334">97</tspan><tspan x="1435">EIF2C2</tspan><tspan x="1586">112</tspan><tspan x="1676">ARL2</tspan><tspan x="1831">127</tspan><tspan x="1917">GDI1</tspan><tspan x="2070">142</tspan><tspan x="2154">GNA12</tspan></text>
<text y="2078"><tspan x="19">8</tspan><tspan x="74">PTGS2</tspan><tspan x="231">23</tspan><tspan x="312">VAMP2</tspan><tspan x="446">38</tspan><tspan x="528">POLR2F</tspan><tspan x="672">53</tspan><tspan x="757">COL5A1</tspan><tspan x="902">68</tspan><tspan x="985">CNOT8</tspan><tspan x="1105">83</tspan><tspan x="1187">PAPOLA</tspan><tspan x="1334">98</tspan><tspan x="1435">CXADR</tspan><tspan x="1586">113</tspan><tspan x="1676">RAB10</tspan><tspan x="1831">128</tspan><tspan x="1917">VPS37C</tspan><tspan x="2070">143</tspan><tspan x="2154">SLC9A1</tspan></text>
<text y="2114"><tspan x="19">9</tspan><tspan x="74">VAMP4</tspan><tspan x="231">24</tspan><tspan x="312">DNAJC8</tspan><tspan x="446">39</tspan><tspan x="528">IRS2</tspan><tspan x="672">54</tspan><tspan x="757">SPHK2</tspan><tspan x="902">69</tspan><tspan x="985">LASP1</tspan><tspan x="1105">84</tspan><tspan x="1187">HMGB2</tspan><tspan x="1334">99</tspan><tspan x="1435">SH3KBP1</tspan><tspan x="1586">114</tspan><tspan x="1676">BCL2L11</tspan><tspan x="1831">129</tspan><tspan x="1917">CDK6</tspan><tspan x="2070">144</tspan><tspan x="2154">PXN</tspan></text>
<text y="2150"><tspan x="19">10</tspan><tspan x="74">CRK</tspan><tspan x="231">25</tspan><tspan x="312">LRP10</tspan><tspan x="446">40</tspan><tspan x="528">ADCY6</tspan><tspan x="672">55</tspan><tspan x="757">KLF4</tspan><tspan x="902">70</tspan><tspan x="985">MCL1</tspan><tspan x="1105">85</tspan><tspan x="1187">PAFAH1B1</tspan><tspan x="1334">100</tspan><tspan x="1435">TCEB3</tspan><tspan x="1586">115</tspan><tspan x="1676">PRDM4</tspan><tspan x="1831">130</tspan><tspan x="1917">AP4E1</tspan><tspan x="2070">145</tspan><tspan x="2154">RABL3</tspan></text>
<text y="2186"><tspan x="19">11</tspan><tspan x="74">NUDC</tspan><tspan x="231">26</tspan><tspan x="312">OBFC2A</tspan><tspan x="446">41</tspan><tspan x="528">CNN3</tspan><tspan x="672">56</tspan><tspan x="757">GNG12</tspan><tspan x="902">71</tspan><tspan x="985">TPM1</tspan><tspan x="1105">86</tspan><tspan x="1187">NOTCH1</tspan><tspan x="1334">101</tspan><tspan x="1435">FOSL1</tspan><tspan x="1586">116</tspan><tspan x="1676">RBM3</tspan><tspan x="1831">131</tspan><tspan x="1917">NRAS</tspan><tspan x="2070">146</tspan><tspan x="2154">NUPR1</tspan></text>
<text y="2222"><tspan x="19">12</tspan><tspan x="74">POM121C</tspan><tspan x="231">27</tspan><tspan x="312">TESK2</tspan><tspan x="446">42</tspan><tspan x="528">FOXO4</tspan><tspan x="672">57</tspan><tspan x="757">PIM1</tspan><tspan x="902">72</tspan><tspan x="985">CPS1</tspan><tspan x="1105">87</tspan><tspan x="1187">B4GALT7</tspan><tspan x="1334">102</tspan><tspan x="1435">GRSF1</tspan><tspan x="1586">117</tspan><tspan x="1676">CDKN1C</tspan><tspan x="1831">132</tspan><tspan x="1917">SKAP2</tspan><tspan x="2070">147</tspan><tspan x="2154">TPD52L1</tspan></text>
<text y="2258"><tspan x="19">13</tspan><tspan x="74">SSH2</tspan><tspan x="231">28</tspan><tspan x="312">M6PR</tspan><tspan x="446">43</tspan><tspan x="528">CCND1</tspan><tspan x="672">58</tspan><tspan x="757">NFIX</tspan><tspan x="902">73</tspan><tspan x="985">CAV2</tspan><tspan x="1105">88</tspan><tspan x="1187">HCFC1</tspan><tspan x="1334">103</tspan><tspan x="1435">HNRNPA1</tspan><tspan x="1586">118</tspan><tspan x="1676">NQO1</tspan><tspan x="1831">133</tspan><tspan x="1917">SIK1</tspan><tspan x="2070">148</tspan><tspan x="2154">EGFR</tspan></text>
<text y="2294"><tspan x="19">14</tspan><tspan x="74">PTGS1</tspan><tspan x="231">29</tspan><tspan x="312">RBBP4</tspan><tspan x="446">44</tspan><tspan x="528">BMPR2</tspan><tspan x="672">59</tspan><tspan x="757">NSF</tspan><tspan x="902">74</tspan><tspan x="985">BTG2</tspan><tspan x="1105">89</tspan><tspan x="1187">NEK2</tspan><tspan x="1334">104</tspan><tspan x="1435">HNRNPD</tspan><tspan x="1586">119</tspan><tspan x="1676">HNRNPA3</tspan><tspan x="1831">134</tspan><tspan x="1917">RAB35</tspan><tspan x="2070">149</tspan><tspan x="2154">ROD1</tspan></text>
<text y="2330"><tspan x="19">15</tspan><tspan x="74">PRPF19</tspan><tspan x="231">30</tspan><tspan x="312">SRF</tspan><tspan x="446">45</tspan><tspan x="528">TFRC</tspan><tspan x="672">60</tspan><tspan x="757">CYTH2</tspan><tspan x="902">75</tspan><tspan x="985">LOX</tspan><tspan x="1105">90</tspan><tspan x="1187">CHP</tspan><tspan x="1334">105</tspan><tspan x="1435">AP1S1</tspan><tspan x="1586">120</tspan><tspan x="1676">GNAI3</tspan><tspan x="1831">135</tspan><tspan x="1917">RNMT</tspan><tspan x="2070">150</tspan><tspan x="2154">NRP1</tspan></text>
</g>
<g id="mirna-legend" class="lm">
<text y="2412"><tspan x="19">a</tspan><tspan x="69">hsa-miR-4521</tspan><tspan x="320">p</tspan><tspan x="389">hsa-miR-1229</tspan><tspan x="642">ae</tspan><tspan x="724">hsa-miR-4323</tspan><tspan x="993">at</tspan><tspan x="1073">hsa-miR-4725-3p</tspan></text>
<text y="2445"><tspan x="19">b</tspan><tspan x="69">hsa-miR-4487</tspan><tspan x="320">q</tspan><tspan x="389">hsa-miR-5095</tspan><tspan x="642">af</tspan><tspan x="724">hsa-miR-4741</tspan><tspan x="993">au</tspan><tspan x="1073">hsa-miR-877</tspan></text>
<text y="2478"><tspan x="19">c</tspan><tspan x="69">hsa-miR-4763-5p</tspan><tspan x="320">r</tspan><tspan x="389">hsa-miR-365</tspan><tspan x="642">ag</tspan><tspan x="724">hsa-miR-221</tspan><tspan x="993">av</tspan><tspan x="1073">hsa-miR-2114</tspan></text>
<text y="2511"><tspan x="19">d</tspan><tspan x="69">hsa-miR-1234</tspan><tspan x="320">s</tspan><tspan x="389">hsa-miR-4728-3p</tspan><tspan x="642">ah</tspan><tspan x="724">hsa-miR-222</tspan><tspan x="993">aw</tspan><tspan x="1073">hsa-miR-1273e</tspan></text>
<text y="2544"><tspan x="19">e</tspan><tspan x="69">hsa-miR-3149</tspan><tspan x="320">t</tspan><tspan x="389">hsa-miR-486-3p</tspan><tspan x="642">ai</tspan><tspan x="724">hsa-miR-4784</tspan><tspan x="993">ax</tspan><tspan x="1073">hsa-miR-4450</tspan></text>
<text y="2577"><tspan x="19">f</tspan><tspan x="69">hsa-miR-3676</tspan><tspan x="320">u</tspan><tspan x="389">hsa-miR-3145-5p</tspan><tspan x="642">aj</tspan><tspan x="724">hsa-miR-3150b-3p</tspan><tspan x="993">ay</tspan><tspan x="1073">hsa-miR-3135b</tspan></text>
<text y="2610"><tspan x="19">g</tspan><tspan x="69">hsa-miR-4451</tspan><tspan x="320">v</tspan><tspan x="389">hsa-miR-4524</tspan><tspan x="642">ak</tspan><tspan x="724">hsa-miR-885-3p</tspan><tspan x="993">az</tspan><tspan x="1073">hsa-miR-1287</tspan></text>
<text y="2643"><tspan x="19">h</tspan><tspan x="69">hsa-miR-4722-3p</tspan><tspan x="320">w</tspan><tspan x="389">hsa-miR-4448</tspan><tspan x="642">al</tspan><tspan x="724">hsa-miR-194</tspan><tspan x="993">ba</tspan><tspan x="1073">hsa-miR-7</tspan></text>
<text y="2676"><tspan x="19">i</tspan><tspan x="69">hsa-miR-4651</tspan><tspan x="320">x</tspan><tspan x="389">hsa-miR-1976</tspan><tspan x="642">am</tspan><tspan x="724">hsa-miR-2116</tspan><tspan x="993">bb</tspan><tspan x="1073">hsa-miR-210</tspan></text>
<text y="2709"><tspan x="19">j</tspan><tspan x="69">hsa-miR-1273f</tspan><tspan x="320">y</tspan><tspan x="389">hsa-miR-1265</tspan><tspan x="642">an</tspan><tspan x="724">hsa-miR-197</tspan><tspan x="993">bc</tspan><tspan x="1073">hsa-miR-574-5p</tspan></text>
<text y="2742"><tspan x="19">k</tspan><tspan x="69">hsa-miR-766</tspan><tspan x="320">z</tspan><tspan x="389">hsa-miR-4769-3p</tspan><tspan x="642">ao</tspan><tspan x="724">hsa-miR-4701-5p</tspan><tspan x="993">bd</tspan><tspan x="1073">hsa-miR-4253</tspan></text>
<text y="2775"><tspan x="19">l</tspan><tspan x="69">hsa-miR-4428</tspan><tspan x="320">aa</tspan><tspan x="389">hsa-miR-449b</tspan><tspan x="642">ap</tspan><tspan x="724">hsa-miR-4254</tspan><tspan x="993">be</tspan><tspan x="1073">hsa-miR-4259</tspan></text>
<text y="2808"><tspan x="19">m</tspan><tspan x="69">hsa-miR-31</tspan><tspan x="320">ab</tspan><tspan x="389">hsa-miR-4792</tspan><tspan x="642">aq</tspan><tspan x="724">hsa-miR-1972</tspan></text>
<text y="2841"><tspan x="19">n</tspan><tspan x="69">hsa-miR-1285</tspan><tspan x="320">ac</tspan><tspan x="389">hsa-miR-1202</tspan><tspan x="642">ar</tspan><tspan x="724">hsa-miR-29a</tspan></text>
<text y="2874"><tspan x="19">o</tspan><tspan x="69">hsa-miR-5096</tspan><tspan x="320">ad</tspan><tspan x="389">hsa-miR-4688</tspan><tspan x="642">as</tspan><tspan x="724">hsa-miR-29b</tspan></text>
</g>
</svg>
